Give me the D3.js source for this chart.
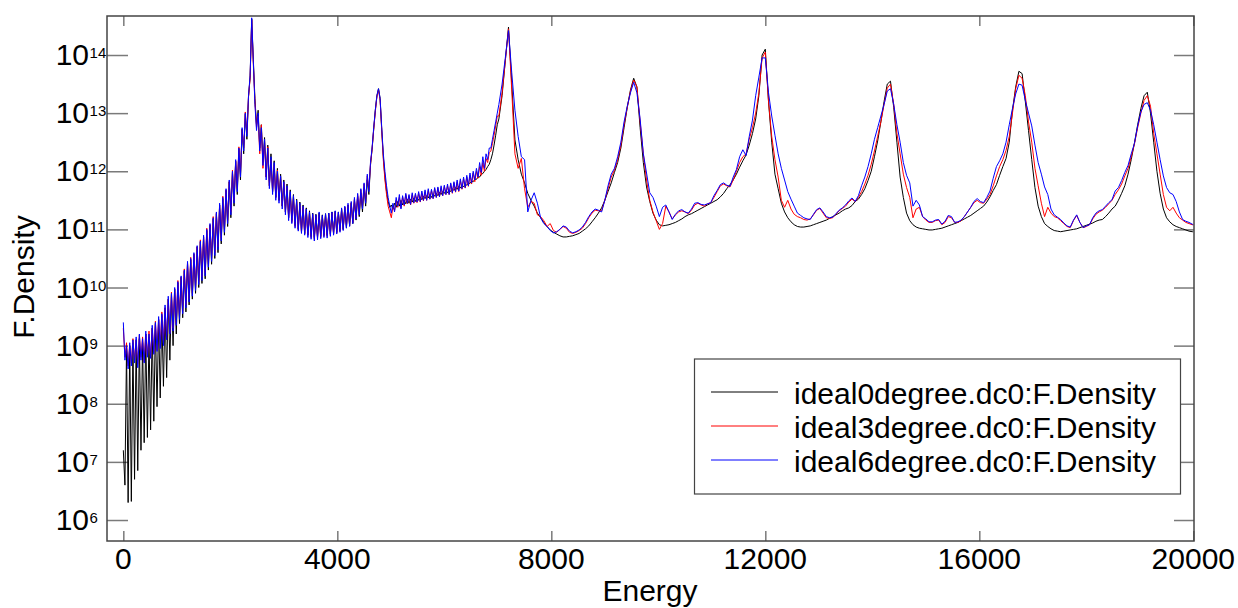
<!DOCTYPE html>
<html><head><meta charset="utf-8">
<script src="https://cdn.jsdelivr.net/npm/d3@7"></script>
<style>body{margin:0;background:#fff}svg{display:block;font-family:Arial,"Liberation Sans",sans-serif}</style>
</head><body><svg id="chart" width="1238" height="608"></svg>
<script>
// Energy samples
const energy = [
0,30,60,90,120,150,180,210,240,270,
300,330,360,390,420,450,480,510,540,570,
600,630,660,690,720,750,780,810,840,870,
900,930,960,990,1020,1050,1080,1110,1140,1170,
1200,1230,1260,1290,1320,1350,1380,1410,1440,1470,
1500,1530,1560,1590,1620,1650,1680,1710,1740,1770,
1800,1830,1860,1890,1920,1950,1980,2010,2040,2070,
2100,2130,2160,2190,2220,2250,2280,2310,2340,2370,
2400,2430,2460,2490,2520,2550,2580,2610,2640,2670,
2700,2730,2760,2790,2820,2850,2880,2910,2940,2970,
3000,3030,3060,3090,3120,3150,3180,3210,3240,3270,
3300,3330,3360,3390,3420,3450,3480,3510,3540,3570,
3600,3630,3660,3690,3720,3750,3780,3810,3840,3870,
3900,3930,3960,3990,4020,4050,4080,4110,4140,4170,
4200,4230,4260,4290,4320,4350,4380,4410,4440,4470,
4500,4530,4560,4590,4620,4650,4680,4710,4740,4770,
4800,4830,4860,4890,4920,4950,4980,5010,5040,5070,
5100,5130,5160,5190,5220,5250,5280,5310,5340,5370,
5400,5430,5460,5490,5520,5550,5580,5610,5640,5670,
5700,5730,5760,5790,5820,5850,5880,5910,5940,5970,
6000,6030,6060,6090,6120,6150,6180,6210,6240,6270,
6300,6330,6360,6390,6420,6450,6480,6510,6540,6570,
6600,6630,6660,6690,6720,6750,6780,6810,6840,6870,
6900,6930,6960,6990,
7020,7080,7140,7200,7260,7320,7380,7440,7500,7560,
7620,7680,7740,7800,7860,7920,7980,8040,8100,8160,
8220,8280,8340,8400,8460,8520,8580,8640,8700,8760,
8820,8880,8940,9000,9060,9120,9180,9240,9300,9360,
9420,9480,9540,9600,9660,9720,9780,9840,9900,9960,
10020,10080,10140,10200,10260,10320,10380,10440,10500,10560,
10620,10680,10740,10800,10860,10920,10980,11040,11100,11160,
11220,11280,11340,11400,11460,11520,11580,11640,11700,11760,
11820,11880,11940,12000,12060,12120,12180,12240,12300,12360,
12420,12480,12540,12600,12660,12720,12780,12840,12900,12960,
13020,13080,13140,13200,13260,13320,13380,13440,13500,13560,
13620,13680,13740,13800,13860,13920,13980,14040,14100,14160,
14220,14280,14340,14400,14460,14520,14580,14640,14700,14760,
14820,14880,14940,15000,15060,15120,15180,15240,15300,15360,
15420,15480,15540,15600,15660,15720,15780,15840,15900,15960,
16020,16080,16140,16200,16260,16320,16380,16440,16500,16560,
16620,16680,16740,16800,16860,16920,16980,17040,17100,17160,
17220,17280,17340,17400,17460,17520,17580,17640,17700,17760,
17820,17880,17940,18000,18060,18120,18180,18240,18300,18360,
18420,18480,18540,18600,18660,18720,18780,18840,18900,18960,
19020,19080,19140,19200,19260,19320,19380,19440,19500,19560,
19620,19680,19740,19800,19860,19920,19980,20000];

// log10(F.Density) for ideal0degree.dc0
const logDensity0 = [
7.2,6.6,8.95,6.3,9.0,6.32,9.05,6.7,9.1,6.85,
9.12,7.2,9.05,7.33,9.2,7.42,9.15,7.55,9.3,7.7,
9.38,7.95,9.45,8.1,9.52,8.3,9.65,8.45,9.8,8.75,
9.88,9.0,9.97,9.2,10.08,9.38,10.17,9.48,10.28,9.58,
10.42,9.7,10.48,9.8,10.57,9.9,10.7,10.0,10.78,10.07,
10.87,10.15,10.98,10.3,11.07,10.4,11.18,10.5,11.27,10.6,
11.42,10.75,11.52,10.9,11.67,11.05,11.82,11.2,11.98,11.4,
12.17,11.6,12.38,11.85,12.72,12.3,12.98,12.55,13.28,13.62,
14.62,13.92,13.25,12.8,13.05,12.4,12.8,12.15,12.58,11.9,
12.45,11.75,12.3,11.65,12.18,11.55,12.05,11.5,11.95,11.4,
11.85,11.3,11.78,11.2,11.68,11.15,11.6,11.07,11.52,11.0,
11.47,10.96,11.42,10.93,11.37,10.9,11.32,10.88,11.28,10.86,
11.26,10.87,11.28,10.88,11.25,10.9,11.27,10.9,11.28,10.92,
11.3,10.93,11.31,10.95,11.3,10.98,11.35,11.0,11.38,11.03,
11.42,11.06,11.45,11.1,11.5,11.16,11.57,11.22,11.63,11.3,
11.72,11.4,11.85,11.6,12.1,12.38,12.72,13.05,13.3,13.42,
13.25,12.72,12.25,11.9,11.65,11.48,11.38,11.42,11.35,11.45,
11.38,11.48,11.4,11.5,11.42,11.5,11.44,11.52,11.45,11.52,
11.47,11.54,11.48,11.55,11.5,11.56,11.51,11.57,11.53,11.58,
11.54,11.6,11.55,11.61,11.57,11.62,11.58,11.64,11.6,11.65,
11.62,11.67,11.63,11.68,11.65,11.7,11.67,11.72,11.69,11.74,
11.71,11.76,11.73,11.78,11.76,11.8,11.79,11.83,11.82,11.86,
11.86,11.9,11.9,11.95,11.96,12.0,12.03,12.08,12.12,12.2,
12.3,12.45,12.62,12.8,
12.9,13.3,13.9,14.48,13.52,12.54,12.2,11.95,11.8,11.62,
11.5,11.4,11.28,11.2,11.12,11.05,10.99,10.95,10.92,10.89,
10.87,10.87,10.88,10.89,10.91,10.93,10.97,11.01,11.06,11.13,
11.2,11.28,11.37,11.5,11.65,11.8,11.98,12.15,12.4,12.75,
13.1,13.4,13.6,13.45,12.75,12.15,11.73,11.48,11.28,11.16,
11.08,11.06,11.07,11.08,11.1,11.12,11.15,11.18,11.22,11.25,
11.27,11.3,11.33,11.36,11.39,11.42,11.45,11.48,11.51,11.56,
11.62,11.7,11.77,11.85,11.95,12.07,12.18,12.28,12.45,12.65,
12.9,13.3,14.0,14.1,13.2,12.5,11.95,11.7,11.45,11.3,
11.2,11.13,11.08,11.05,11.04,11.04,11.05,11.06,11.08,11.1,
11.12,11.14,11.16,11.19,11.22,11.25,11.28,11.32,11.35,11.37,
11.41,11.48,11.52,11.6,11.7,11.84,12.0,12.25,12.52,12.85,
13.2,13.5,13.55,13.1,12.5,11.9,11.55,11.28,11.15,11.08,
11.04,11.02,11.01,11.0,10.99,10.99,11.0,11.01,11.02,11.04,
11.06,11.08,11.1,11.12,11.15,11.18,11.21,11.24,11.28,11.32,
11.36,11.4,11.47,11.56,11.67,11.77,11.93,12.08,12.22,12.5,
13.05,13.45,13.72,13.68,13.2,12.7,12.2,11.72,11.4,11.22,
11.1,11.05,11.01,10.98,10.97,10.96,10.97,10.98,10.99,11.0,
11.01,11.03,11.05,11.07,11.09,11.11,11.14,11.16,11.17,11.22,
11.28,11.35,11.4,11.5,11.62,11.75,11.95,12.2,12.49,12.8,
13.08,13.3,13.36,13.0,12.5,12.0,11.62,11.35,11.2,11.13,
11.08,11.05,11.03,11.01,10.99,10.97,10.96,10.96];

// log10(F.Density) for ideal3degree.dc0
const logDensity3 = [
9.3,8.8,9.05,8.65,9.0,8.7,9.12,8.75,9.1,8.68,
9.18,8.8,9.15,8.72,9.2,8.82,9.25,8.8,9.3,8.88,
9.42,8.92,9.45,8.98,9.58,9.05,9.65,9.12,9.8,9.22,
9.92,9.3,9.98,9.38,10.12,9.5,10.18,9.6,10.32,9.7,
10.42,9.8,10.52,9.9,10.58,10.0,10.7,10.1,10.82,10.18,
10.88,10.25,11.02,10.4,11.08,10.5,11.22,10.6,11.28,10.7,
11.42,10.85,11.57,11.0,11.68,11.15,11.82,11.3,12.02,11.5,
12.18,11.7,12.42,11.95,12.72,12.4,13.02,12.65,13.28,13.6,
14.6,13.85,13.2,12.75,12.95,12.3,12.8,12.05,12.5,11.9,
12.42,11.75,12.2,11.65,12.1,11.55,12.02,11.5,11.9,11.4,
11.8,11.3,11.72,11.2,11.62,11.12,11.55,11.05,11.48,11.0,
11.42,10.95,11.38,10.92,11.33,10.9,11.28,10.86,11.25,10.83,
11.22,10.85,11.26,10.86,11.22,10.88,11.25,10.88,11.26,10.9,
11.28,10.92,11.3,10.94,11.28,10.97,11.34,11.0,11.38,11.05,
11.42,11.07,11.46,11.12,11.52,11.2,11.6,11.28,11.68,11.38,
11.78,11.48,11.92,11.68,12.12,12.38,12.72,13.02,13.28,13.4,
13.22,12.7,12.2,11.85,11.6,11.4,11.3,11.2,11.4,11.32,
11.5,11.38,11.55,11.37,11.56,11.4,11.6,11.44,11.58,11.42,
11.6,11.45,11.6,11.46,11.62,11.47,11.63,11.49,11.65,11.5,
11.67,11.52,11.67,11.53,11.7,11.55,11.71,11.56,11.72,11.58,
11.74,11.6,11.75,11.6,11.78,11.62,11.8,11.64,11.82,11.65,
11.84,11.69,11.87,11.71,11.9,11.74,11.93,11.78,11.97,11.82,
12.0,11.88,12.08,11.93,12.15,12.0,12.22,12.15,12.32,12.35,
12.48,12.62,12.78,12.95,
12.95,13.35,13.9,14.45,13.4,12.3,12.05,12.22,11.7,11.38,
11.48,11.45,11.25,11.22,11.15,11.05,11.1,10.98,10.95,11.0,
11.05,11.02,10.95,10.93,10.95,10.98,11.02,11.1,11.2,11.28,
11.33,11.32,11.32,11.5,11.7,11.9,12.02,12.2,12.45,12.8,
13.1,13.38,13.57,13.45,12.85,12.3,11.85,11.5,11.3,11.15,
11.0,11.1,11.4,11.3,11.18,11.25,11.3,11.32,11.3,11.27,
11.33,11.42,11.45,11.42,11.4,11.44,11.46,11.55,11.65,11.75,
11.78,11.75,11.73,11.85,12.0,12.15,12.25,12.3,12.55,12.75,
13.0,13.35,13.95,14.05,13.2,12.6,12.2,11.9,11.5,11.38,
11.5,11.35,11.26,11.22,11.2,11.17,11.16,11.18,11.25,11.33,
11.36,11.28,11.2,11.19,11.2,11.26,11.32,11.36,11.4,11.47,
11.52,11.48,11.55,11.65,11.78,11.93,12.12,12.35,12.6,12.85,
13.15,13.43,13.5,13.15,12.65,12.3,11.95,11.72,11.55,11.2,
11.35,11.38,11.22,11.16,11.12,11.12,11.15,11.16,11.08,11.12,
11.22,11.2,11.12,11.12,11.15,11.22,11.3,11.38,11.46,11.5,
11.46,11.45,11.52,11.6,11.75,11.92,12.08,12.2,12.36,12.6,
13.0,13.42,13.65,13.6,13.3,12.85,12.5,12.05,11.75,11.45,
11.22,11.38,11.28,11.22,11.2,11.15,11.1,11.05,11.03,11.15,
11.24,11.12,11.03,11.05,11.08,11.18,11.26,11.3,11.33,11.38,
11.44,11.5,11.6,11.68,11.78,11.92,12.05,12.25,12.47,12.75,
13.0,13.22,13.3,13.12,12.65,12.3,11.95,11.6,11.38,11.32,
11.38,11.28,11.2,11.16,11.12,11.1,11.08,11.08];

// log10(F.Density) for ideal6degree.dc0
const logDensity6 = [
9.4,8.75,9.0,8.6,9.05,8.65,9.1,8.7,9.15,8.62,
9.2,8.75,9.12,8.7,9.25,8.8,9.2,8.78,9.35,8.85,
9.4,8.9,9.5,8.95,9.55,9.0,9.7,9.1,9.85,9.2,
9.9,9.25,10.0,9.35,10.1,9.45,10.2,9.55,10.3,9.65,
10.45,9.75,10.5,9.85,10.6,9.95,10.72,10.05,10.8,10.12,
10.9,10.2,11.0,10.35,11.1,10.45,11.2,10.55,11.3,10.65,
11.45,10.8,11.55,10.95,11.7,11.1,11.85,11.25,12.0,11.45,
12.2,11.65,12.4,11.9,12.75,12.35,13.0,12.6,13.3,13.65,
14.64,13.9,13.15,12.7,13.0,12.35,12.75,12.1,12.55,11.85,
12.4,11.7,12.25,11.6,12.15,11.5,12.0,11.45,11.92,11.35,
11.82,11.25,11.75,11.15,11.65,11.1,11.58,11.02,11.5,10.97,
11.45,10.93,11.4,10.9,11.35,10.86,11.3,10.83,11.27,10.8,
11.25,10.82,11.3,10.84,11.24,10.86,11.27,10.85,11.28,10.88,
11.3,10.9,11.32,10.92,11.3,10.95,11.37,10.98,11.4,11.02,
11.45,11.05,11.48,11.1,11.55,11.18,11.62,11.25,11.7,11.35,
11.8,11.45,11.95,11.65,12.15,12.4,12.75,13.05,13.3,13.42,
13.25,12.75,12.3,12.0,11.75,11.55,11.4,11.28,11.45,11.3,
11.55,11.4,11.6,11.35,11.58,11.42,11.62,11.45,11.6,11.43,
11.63,11.46,11.62,11.47,11.65,11.48,11.66,11.5,11.68,11.5,
11.7,11.52,11.69,11.53,11.72,11.55,11.73,11.56,11.75,11.58,
11.76,11.6,11.78,11.6,11.8,11.63,11.82,11.65,11.85,11.66,
11.87,11.7,11.9,11.72,11.93,11.75,11.97,11.8,12.0,11.85,
12.05,11.9,12.15,11.98,12.25,12.05,12.3,12.2,12.4,12.4,
12.55,12.7,12.85,13.0,
13.15,13.5,13.95,14.42,13.7,13.05,12.6,12.25,12.2,11.3,
11.5,11.63,11.45,11.2,11.1,11.05,10.98,10.94,10.96,11.0,
11.06,11.04,10.97,10.94,10.96,10.99,11.04,11.12,11.22,11.3,
11.35,11.33,11.3,11.5,11.75,11.95,12.05,12.25,12.5,12.85,
13.12,13.35,13.53,13.35,12.9,12.3,11.97,11.63,11.55,11.4,
11.22,11.38,11.42,11.3,11.17,11.26,11.32,11.34,11.3,11.28,
11.35,11.45,11.46,11.43,11.42,11.44,11.46,11.58,11.67,11.77,
11.8,11.76,11.74,11.9,12.03,12.25,12.37,12.27,12.6,12.88,
13.3,13.62,13.95,13.95,13.35,12.95,12.62,12.3,12.05,11.85,
11.65,11.52,11.4,11.28,11.24,11.2,11.18,11.17,11.26,11.34,
11.37,11.3,11.22,11.2,11.21,11.27,11.33,11.37,11.42,11.49,
11.54,11.48,11.58,11.75,11.9,12.08,12.3,12.55,12.75,12.95,
13.15,13.38,13.42,13.15,12.8,12.5,12.15,11.93,11.8,11.4,
11.5,11.42,11.22,11.18,11.13,11.13,11.16,11.17,11.09,11.14,
11.24,11.22,11.12,11.13,11.16,11.22,11.3,11.38,11.48,11.53,
11.48,11.46,11.55,11.66,11.88,12.08,12.18,12.3,12.5,12.8,
13.08,13.33,13.5,13.48,13.22,13.0,12.78,12.45,12.15,11.95,
11.73,11.6,11.35,11.25,11.21,11.17,11.11,11.06,11.04,11.16,
11.25,11.12,11.03,11.06,11.08,11.2,11.28,11.32,11.34,11.4,
11.46,11.51,11.66,11.72,11.84,11.98,12.1,12.3,12.48,12.78,
13.02,13.15,13.18,13.05,12.8,12.5,12.2,11.92,11.72,11.63,
11.6,11.48,11.3,11.17,11.14,11.12,11.09,11.08];

const seriesNames = ["ideal0degree.dc0:F.Density", "ideal3degree.dc0:F.Density", "ideal6degree.dc0:F.Density"];
const seriesColors = ["#000000", "#ff0000", "#0000ff"];
const xTickValues = [0, 4000, 8000, 12000, 16000, 20000];
const yTickExponents = [6, 7, 8, 9, 10, 11, 12, 13, 14];
const xLabel = "Energy";
const yLabel = "F.Density";

const svg = d3.select("#chart");
const L = 107, R = 1194, T = 16, B = 541;

const x = d3.scaleLinear().domain([-305, 20013]).range([L, R]);
const y = d3.scaleLog().domain([Math.pow(10, 5.639), Math.pow(10, 14.671)]).range([B, T]);

const allSeries = [logDensity0, logDensity3, logDensity6].map((arr, i) => ({
  name: seriesNames[i], color: seriesColors[i],
  points: energy.map((e, j) => [e, Math.pow(10, arr[j])])
}));

// axes (inside ticks)
const tickColor = "#7a7a7a";
const gL = svg.append("g").attr("transform", `translate(${L},0)`)
  .call(d3.axisRight(y).tickValues(yTickExponents.map(e => Math.pow(10, e))).tickSize(21).tickFormat(""));
const gR = svg.append("g").attr("transform", `translate(${R},0)`)
  .call(d3.axisLeft(y).tickValues(yTickExponents.map(e => Math.pow(10, e))).tickSize(20).tickFormat(""));
const gB = svg.append("g").attr("transform", `translate(0,${B})`)
  .call(d3.axisTop(x).tickValues(xTickValues).tickSize(10).tickFormat(""));
const gT = svg.append("g").attr("transform", `translate(0,${T})`)
  .call(d3.axisBottom(x).tickValues(xTickValues).tickSize(10).tickFormat(""));
[gL, gR, gB, gT].forEach(g => {
  g.select(".domain").remove();
  g.selectAll(".tick line").attr("stroke", tickColor).attr("stroke-width", 1.5);
});

// data lines
const line = d3.line().x(d => x(d[0])).y(d => y(d[1]));
svg.append("defs").append("clipPath").attr("id", "clip")
  .append("rect").attr("x", L).attr("y", T).attr("width", R - L).attr("height", B - T);
const plot = svg.append("g").attr("clip-path", "url(#clip)");
allSeries.forEach(s => {
  plot.append("path").datum(s.points)
    .attr("fill", "none").attr("stroke", s.color).attr("stroke-width", 1)
    .attr("stroke-linejoin", "round").attr("d", line);
});

// frame
svg.append("rect").attr("x", L).attr("y", T).attr("width", R - L).attr("height", B - T)
  .attr("fill", "none").attr("stroke", "#444").attr("stroke-width", 1.5);

// y tick labels 10^n (base and exponent as separate texts)
yTickExponents.forEach(e => {
  const yy = y(Math.pow(10, e));
  svg.append("text").attr("x", 55.7).attr("y", yy + 10)
    .attr("font-size", 30).attr("fill", "#000").text("10");
  svg.append("text").attr("x", 89.6).attr("y", yy + 3)
    .attr("font-size", 15).attr("fill", "#000").text(e);
});

// x tick labels
xTickValues.forEach(v => {
  svg.append("text").attr("x", x(v)).attr("y", 569).attr("text-anchor", "middle")
    .attr("font-size", 30).attr("fill", "#000").text(v);
});

// axis titles
svg.append("text").attr("x", 650).attr("y", 601).attr("text-anchor", "middle")
  .attr("font-size", 30).attr("fill", "#000").text(xLabel);
svg.append("text").attr("transform", "translate(34,277) rotate(-90)").attr("text-anchor", "middle")
  .attr("font-size", 30).attr("fill", "#000").text(yLabel);

// legend
const lg = svg.append("g");
lg.append("rect").attr("x", 694.5).attr("y", 359).attr("width", 486).attr("height", 135)
  .attr("fill", "#fff").attr("stroke", "#444").attr("stroke-width", 1.2);
allSeries.forEach((s, i) => {
  const yy = 392 + i * 34;
  lg.append("line").attr("x1", 711).attr("x2", 778).attr("y1", yy).attr("y2", yy)
    .attr("stroke", s.color).attr("stroke-width", 1);
  lg.append("text").attr("x", 794).attr("y", yy + 12).attr("font-size", 30)
    .attr("fill", "#000").text(s.name);
});
</script></body></html>
